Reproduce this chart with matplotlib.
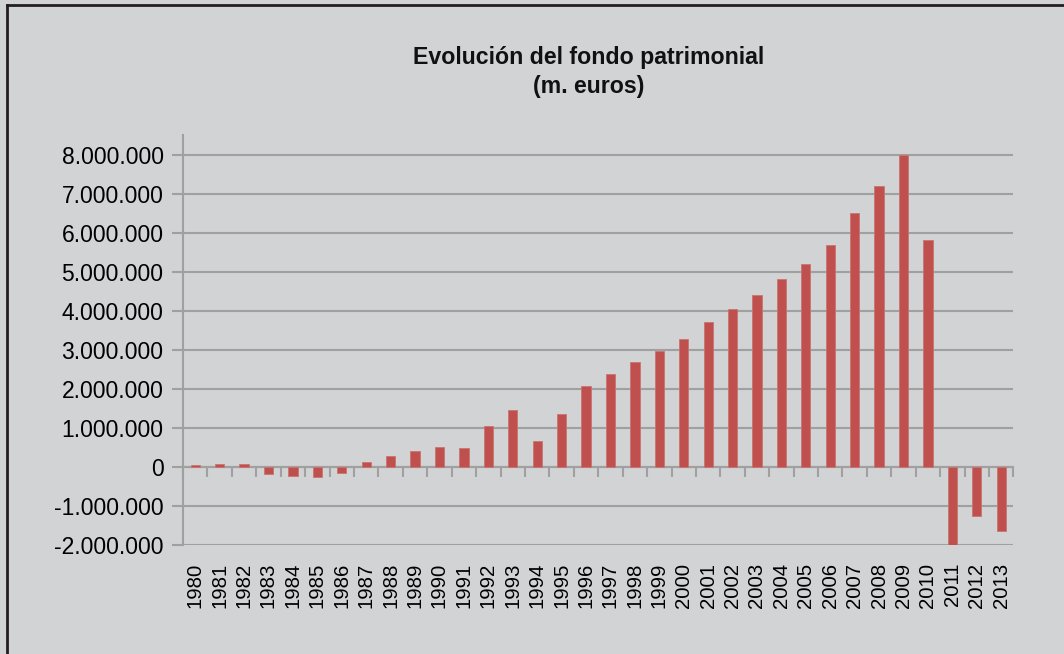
import numpy as np
import matplotlib.pyplot as plt
from matplotlib.lines import Line2D
from matplotlib.ticker import FuncFormatter

plt.rcParams['font.family'] = ['Liberation Sans', 'DejaVu Sans']

years = [str(y) for y in range(1980, 2014)]
fondo = [50000, 70000, 85000, -190000, -240000, -270000, -145000, 120000,
         280000, 400000, 500000, 475000, 1035000, 1450000, 660000, 1350000,
         2080000, 2390000, 2690000, 2980000, 3280000, 3720000, 4050000,
         4410000, 4800000, 5200000, 5670000, 6500000, 7200000, 8000000,
         5800000, -2050000, -1250000, -1640000]
yticks = list(range(-2000000, 8000001, 1000000))

bg = '#D2D3D5'
grey = '#A0A0A0'

fig = plt.figure(figsize=(10.64, 6.54), dpi=100, facecolor=bg)
ax = fig.add_axes([0.172, 0.1667, 0.7805, 0.6269])
ax.set_facecolor(bg)

x = np.arange(len(years))
ax.bar(x, fondo, width=0.38, color='#C0504D', edgecolor='#CB7472',
       linewidth=0.6, zorder=3)

ax.set_xlim(-0.5, len(years) - 0.5)
ax.set_ylim(-2000000, 8500000)
ax.set_yticks(yticks)
ax.yaxis.set_major_formatter(
    FuncFormatter(lambda v, p: '{:,.0f}'.format(v).replace(',', '.')))
ax.grid(axis='y', color=grey, linewidth=1.5, zorder=1)

ax.set_xticks(x)
ax.set_xticklabels(years, rotation=90, fontsize=14.7)
ax.tick_params(axis='x', length=0, pad=12.8)
ax.tick_params(axis='y', labelsize=16.5, length=8, width=1.5, color=grey,
               direction='out', pad=6)

for s in ['top', 'right', 'bottom']:
    ax.spines[s].set_visible(False)
ax.spines['left'].set_color(grey)
ax.spines['left'].set_linewidth(1.5)

# eje de categorias sobre el cero
sec = ax.secondary_xaxis(0, transform=ax.transData)
sec.set_xticks(np.arange(-0.5, len(years)))
sec.set_xticklabels([])
sec.tick_params(length=7, width=1.5, color=grey, direction='out')
sec.spines['bottom'].set_color(grey)
sec.spines['bottom'].set_linewidth(1.5)

fig.text(0.5536, 0.89, 'Evolución del fondo patrimonial\n(m. euros)',
         ha='center', va='center', fontsize=16.7, fontweight='bold',
         linespacing=1.3, color='#111111')

# marco
fig.add_artist(Line2D([0.0066, 1], [0.9924, 0.9924], color='#231F20', lw=2))
fig.add_artist(Line2D([0.0066, 0.0066], [0, 0.9924], color='#231F20', lw=2))

fig.savefig('out.png', dpi=100, facecolor=bg)
